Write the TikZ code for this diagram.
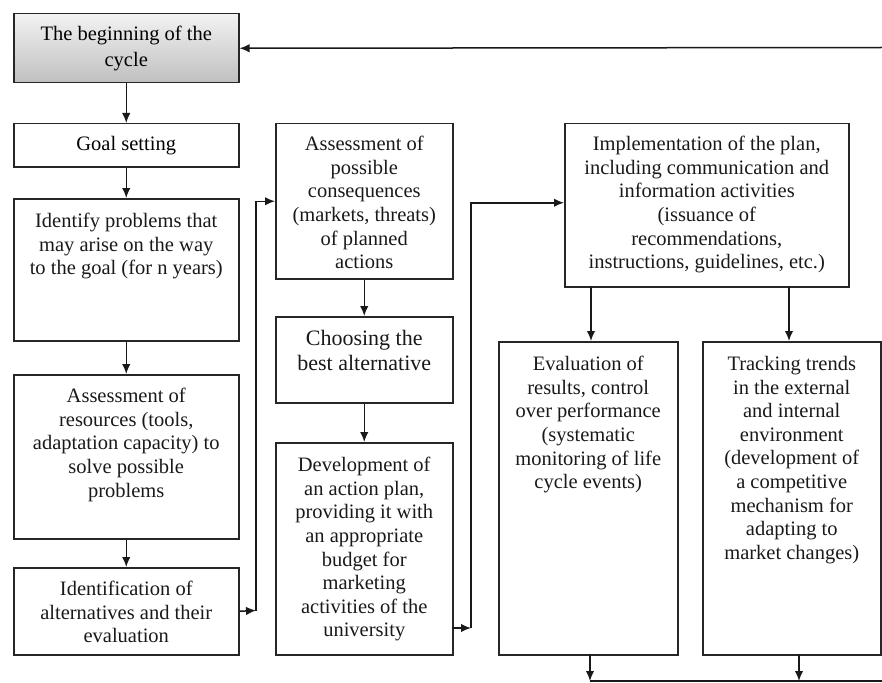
\documentclass[tikz,border=0pt]{standalone}
\usepackage{fontspec}
\setmainfont{Liberation Serif}
\usetikzlibrary{arrows.meta}
\begin{document}
\begin{tikzpicture}[x=1bp,y=-1bp,
  blk/.style={draw=black!85, line width=1.5bp, inner sep=0pt, anchor=north west},
  txt/.style={anchor=north, align=center, inner sep=0pt, text=black!90,
              font=\fontsize{20.5bp}{23.6bp}\selectfont},
  bigtxt/.style={txt, font=\fontsize{22bp}{25bp}\selectfont},
  arr/.style={draw=black!90, line width=1.5bp, -{Latex[length=10bp,width=8.5bp]}},
  ln/.style={draw=black!90, line width=1.5bp}]

\useasboundingbox (0,0) rectangle (882,683);

% left column
\node[blk, minimum width=225bp, minimum height=69bp, top color=black!5, bottom color=black!25,
      align=center, font=\fontsize{20.5bp}{26bp}\selectfont] (b1) at (13,13)
      {The beginning of the\\cycle};
\node[blk, minimum width=225bp, minimum height=43bp,
      font=\fontsize{20.5bp}{23.6bp}\selectfont] (b2) at (13,123) {Goal setting};
\node[blk, minimum width=225bp, minimum height=142bp] (b3) at (13,198) {};
\node[txt] (b3t) at ([yshift=-15bp]b3.north)
      {Identify problems that\\may arise on the way\\to the goal (for n years)};
\node[blk, minimum width=225bp, minimum height=164bp] (b4) at (13,374) {};
\node[txt] (b4t) at ([yshift=-14bp]b4.north)
      {Assessment of\\resources (tools,\\adaptation capacity) to\\solve possible\\problems};
\node[blk, minimum width=225bp, minimum height=87bp] (b5) at (13,567) {};
\node[txt] (b5t) at ([yshift=-14bp]b5.north)
      {Identification of\\alternatives and their\\evaluation};

% middle column
\node[blk, minimum width=177bp, minimum height=155bp] (m1) at (275,123) {};
\node[txt] (m1t) at ([yshift=-13bp]m1.north)
      {Assessment of\\possible\\consequences\\(markets, threats)\\of planned\\actions};
\node[blk, minimum width=177bp, minimum height=86bp] (m2) at (275,316) {};
\node[bigtxt] (m2t) at ([yshift=-14bp]m2.north) {Choosing the\\best alternative};
\node[blk, minimum width=177bp, minimum height=212bp] (m3) at (275,442) {};
\node[txt] (m3t) at ([yshift=-15bp]m3.north)
      {Development of\\an action plan,\\providing it with\\an appropriate\\budget for\\marketing\\activities of the\\university};

% right column
\node[blk, minimum width=284bp, minimum height=163bp] (r1) at (564,123) {};
\node[txt] (r1t) at ([yshift=-13bp]r1.north)
      {Implementation of the plan,\\including communication and\\information activities\\(issuance of\\recommendations,\\instructions, guidelines, etc.)};
\node[blk, minimum width=179bp, minimum height=313bp] (e1) at (498,341) {};
\node[txt] (e1t) at ([yshift=-15bp]e1.north)
      {Evaluation of\\results, control\\over performance\\(systematic\\monitoring of life\\cycle events)};
\node[blk, minimum width=178bp, minimum height=313bp] (t1) at (702,341) {};
\node[txt] (t1t) at ([yshift=-15bp]t1.north)
      {Tracking trends\\in the external\\and internal\\environment\\(development of\\a competitive\\mechanism for\\adapting to\\market changes)};

% junction points of the elbow connectors
\coordinate (j1) at (256,610.5);
\coordinate (d1) at (452,628);
\coordinate (j2) at (471,628);
\coordinate (ra) at (591,286);
\coordinate (ea) at (591,341);
\coordinate (rb) at (789,286);
\coordinate (tb) at (789,341);
\coordinate (eo) at (590,654);
\coordinate (eb) at (590,681);
\coordinate (to) at (799,654);
\coordinate (tb2) at (799,681);
\coordinate (rend) at (882,681);
\coordinate (back) at (882,47.5);

% connectors
\draw[arr] (b1) -- (b2);
\draw[arr] (b2) -- (b3);
\draw[arr] (b3) -- (b4);
\draw[arr] (b4) -- (b5);
\draw[arr] (b5.east) -- (j1);
\draw[arr] (j1) |- (m1.west);
\draw[arr] (m1) -- (m2);
\draw[arr] (m2) -- (m3);
\draw[arr] (d1) -- (j2);
\draw[arr] (j2) |- ([yshift=2.5bp]r1.west);
\draw[arr] (ra) -- (ea);
\draw[arr] (rb) -- (tb);
\draw[arr] (eo) -- (eb);
\draw[arr] (to) -- (tb2);
\draw[ln] (eb) -- (rend);
\draw[arr] (back) -- (b1.east);
\end{tikzpicture}
\end{document}
